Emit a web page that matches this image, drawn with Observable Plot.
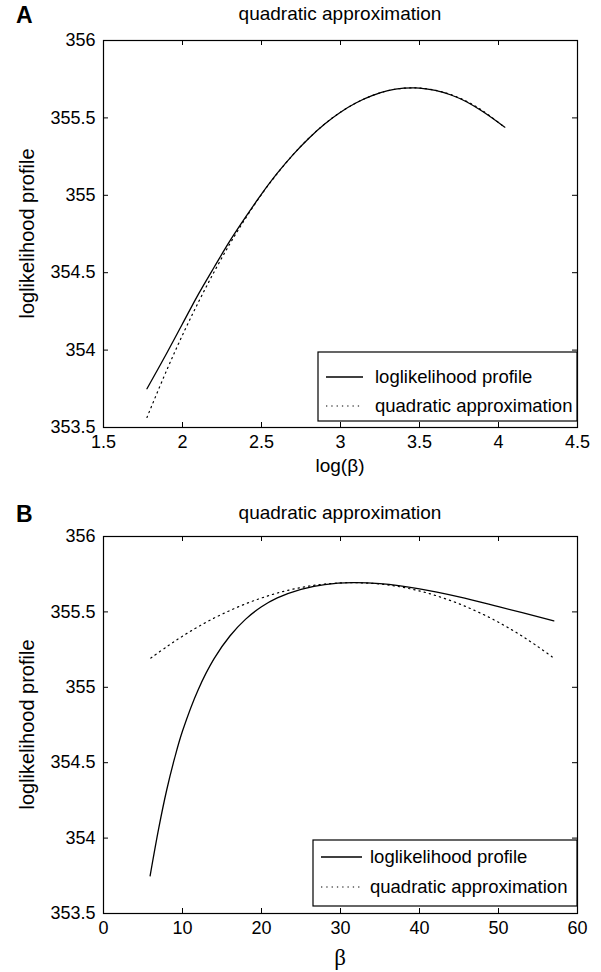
<!DOCTYPE html>
<html><head><meta charset="utf-8">
<script src="https://cdn.jsdelivr.net/npm/d3@7"></script>
<script src="https://cdn.jsdelivr.net/npm/@observablehq/plot@0.6"></script>
<style>
body{margin:0;background:#fff;}
#wrap{position:relative;width:601px;height:972px;background:#fff;}
#wrap svg{position:absolute;left:0;}
</style></head><body><div id="wrap"></div>
<script>
// ---- data ----
const seriesNames = ["loglikelihood profile", "quadratic approximation"];
const panelTitles = ["quadratic approximation", "quadratic approximation"];
const panelLetters = ["A", "B"];
const yLabel = "loglikelihood profile";
const xLabels = ["log(β)", "β"];
const yTicks = [353.5, 354, 354.5, 355, 355.5, 356];
const xTicksA = [1.5, 2, 2.5, 3, 3.5, 4, 4.5];
const xTicksB = [0, 10, 20, 30, 40, 50, 60];

// Panel A: x = log(beta)
const logBetaA = [1.775, 1.9, 2.0, 2.1, 2.2, 2.3, 2.4, 2.5, 2.6, 2.7, 2.8, 2.9, 3.0, 3.1, 3.2, 3.3, 3.4, 3.46, 3.5, 3.6, 3.7, 3.8, 3.9, 4.04];
const profileA = [353.75, 353.98, 354.17, 354.36, 354.535, 354.705, 354.86, 355.008, 355.143, 355.263, 355.369, 355.461, 355.537, 355.598, 355.644, 355.676, 355.692, 355.694, 355.693, 355.678, 355.648, 355.603, 355.541, 355.44];
const quadA = [353.565, 353.870, 354.097, 354.308, 354.505, 354.687, 354.853, 355.005, 355.141, 355.263, 355.369, 355.461, 355.537, 355.598, 355.644, 355.676, 355.692, 355.694, 355.693, 355.679, 355.650, 355.606, 355.546, 355.438];

// Panel B: x = beta
const betaB = [5.9, 7, 8, 9, 10, 12, 14, 16, 18, 20, 22, 25, 28, 31.5, 35, 40, 45, 50, 57];
const profileB = [353.75, 354.068, 354.319, 354.53, 354.71, 354.986, 355.19, 355.34, 355.452, 355.534, 355.593, 355.65, 355.681, 355.694, 355.687, 355.653, 355.60, 355.535, 355.44];
const quadBetaB = [6, 8, 10, 12, 14, 16, 18, 20, 22, 24, 26, 28, 30, 31.5, 33, 35, 37, 39, 41, 43, 45, 47, 49, 51, 53, 55, 57];
const quadB = [355.194, 355.269, 355.339, 355.402, 355.459, 355.509, 355.554, 355.592, 355.625, 355.651, 355.671, 355.685, 355.692, 355.694, 355.692, 355.685, 355.671, 355.651, 355.625, 355.592, 355.554, 355.509, 355.459, 355.402, 355.339, 355.269, 355.194];

const FONT = "'Liberation Sans', Arial, Helvetica, sans-serif";
const W = 601;
const TICKFONT = 18;

function panel(cfg) {
  const {height, mt, mb, ml, mr, xDomain, xTicks, xs, prof, qxs, quad} = cfg;
  const pw = W - ml - mr, ph = height - mt - mb;
  const profData = xs.map((x, i) => ({x, y: prof[i]}));
  const quadData = qxs.map((x, i) => ({x, y: quad[i]}));
  return Plot.plot({
    width: W, height,
    marginTop: mt, marginBottom: mb, marginLeft: ml, marginRight: mr,
    style: {fontFamily: FONT, fontSize: TICKFONT + "px", color: "#000", background: "transparent", overflow: "visible"},
    x: {domain: xDomain},
    y: {domain: [353.5, 356]},
    marks: [
      Plot.axisX(xTicks, {anchor: "bottom", tickSize: 0, tickPadding: 8, label: null, tickFormat: d => String(d), fontSize: TICKFONT}),
      Plot.axisY(yTicks, {anchor: "left", tickSize: 0, tickPadding: 8, label: null, tickFormat: d => String(d), fontSize: TICKFONT}),
      Plot.tickX(xTicks, {x: d => d, insetTop: ph - 5, stroke: "#000"}),
      Plot.tickX(xTicks, {x: d => d, insetBottom: ph - 5, stroke: "#000"}),
      Plot.tickY(yTicks, {y: d => d, insetRight: pw - 5, stroke: "#000"}),
      Plot.tickY(yTicks, {y: d => d, insetLeft: pw - 5, stroke: "#000"}),
      Plot.line(profData, {x: "x", y: "y", stroke: "#000", strokeWidth: 1.3, curve: "catmull-rom"}),
      Plot.line(quadData, {x: "x", y: "y", stroke: "#000", strokeWidth: 1.2, strokeDasharray: "1.3 4", curve: "catmull-rom"}),
      Plot.frame({stroke: "#000", strokeWidth: 1.2})
    ]
  });
}

const wrap = document.getElementById("wrap");
const A = panel({height: 486, mt: 40, mb: 59, ml: 103, mr: 24, xDomain: [1.5, 4.5], xTicks: xTicksA,
  xs: logBetaA, prof: profileA, qxs: logBetaA, quad: quadA});
A.style.top = "0px";
wrap.appendChild(A);
const B = panel({height: 486, mt: 50, mb: 59, ml: 103, mr: 24, xDomain: [0, 60], xTicks: xTicksB,
  xs: betaB, prof: profileB, qxs: quadBetaB, quad: quadB});
B.style.top = "486px";
wrap.appendChild(B);

// ---- annotation overlay: panel letters, titles, axis labels, legends ----
const ov = d3.create("svg").attr("width", W).attr("height", 972)
  .style("top", "0px").style("font-family", FONT);
const panels = [
  {top: 40, bottom: 427, letterY: 23, titleY: 20, xlabY: 472, xlabFont: FONT, xlabSize: 19,
   leg: {x: 318, y: 352, w: 259, h: 69, r1: 377, r2: 406, l1: 326, l2: 363, tx: 375}},
  {top: 536, bottom: 913, letterY: 522, titleY: 519, xlabY: 965, xlabFont: "'Liberation Serif', 'Times New Roman', serif", xlabSize: 23,
   leg: {x: 313, y: 840, w: 264, h: 66, r1: 857, r2: 887, l1: 321, l2: 362, tx: 370}}
];
const cx = 103 + (W - 103 - 24) / 2;
panels.forEach((p, i) => {
  ov.append("text").attr("x", 16).attr("y", p.letterY).attr("font-weight", "bold").attr("font-size", 23).text(panelLetters[i]);
  ov.append("text").attr("x", cx).attr("y", p.titleY).attr("text-anchor", "middle").attr("font-size", 19).text(panelTitles[i]);
  ov.append("text").attr("transform", `translate(34,${(p.top + p.bottom) / 2}) rotate(-90)`)
    .attr("text-anchor", "middle").attr("font-size", 20).text(yLabel);
  ov.append("text").attr("x", cx).attr("y", p.xlabY).attr("text-anchor", "middle")
    .attr("font-family", p.xlabFont).attr("font-size", p.xlabSize).text(xLabels[i]);
  const L = p.leg;
  ov.append("rect").attr("x", L.x).attr("y", L.y).attr("width", L.w).attr("height", L.h)
    .attr("fill", "#fff").attr("stroke", "#000").attr("stroke-width", 1.2);
  ov.append("line").attr("x1", L.l1).attr("x2", L.l2).attr("y1", L.r1).attr("y2", L.r1).attr("stroke", "#000").attr("stroke-width", 1.3);
  ov.append("line").attr("x1", L.l1).attr("x2", L.l2).attr("y1", L.r2).attr("y2", L.r2).attr("stroke", "#000").attr("stroke-width", 1.2).attr("stroke-dasharray", "1.3 4");
  ov.append("text").attr("x", L.tx).attr("y", L.r1 + 6).attr("font-size", 18.5).text(seriesNames[0]);
  ov.append("text").attr("x", L.tx).attr("y", L.r2 + 6).attr("font-size", 18.5).text(seriesNames[1]);
});
wrap.appendChild(ov.node());
</script></body></html>
